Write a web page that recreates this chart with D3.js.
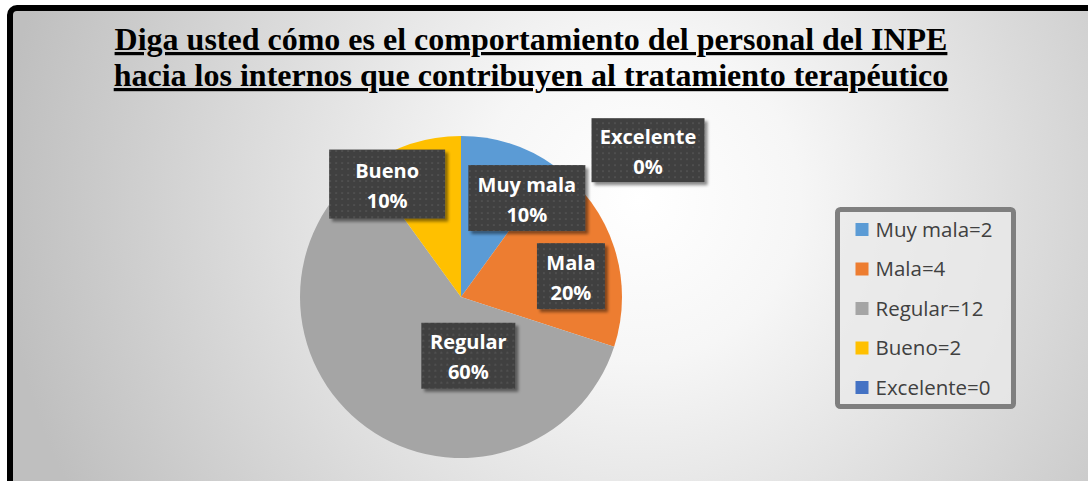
<!DOCTYPE html>
<html>
<head>
<meta charset="utf-8">
<script src="https://cdn.jsdelivr.net/npm/d3@7"></script>
<style>
  html, body { margin: 0; padding: 0; background: #ffffff; }
  svg { display: block; }
</style>
</head>
<body>
<div id="chart"></div>
<script>
"use strict";

// data
var categories = ["Muy mala", "Mala", "Regular", "Bueno", "Excelente"];
var counts = [2, 4, 12, 2, 0];
var legendLabels = ["Muy mala=2", "Mala=4", "Regular=12", "Bueno=2", "Excelente=0"];
var sliceColors = ["#5B9BD5", "#ED7D31", "#A5A5A5", "#FFC000", "#4472C4"];
var titleLines = [
	"Diga usted cómo es el comportamiento del personal del INPE",
	"hacia los internos que contribuyen al tratamiento terapéutico"
];

// label boxes: size and nudge from the arc centroid (Excel moved them around)
var labelLayout = {
	"Muy mala": { w: 117, h: 66, dx: 35, dy: -4 },
	"Mala": { w: 68, h: 66, dx: 15, dy: 10 },
	"Regular": { w: 94, h: 66, dx: 66, dy: -22 },
	"Bueno": { w: 116, h: 69, dx: -43, dy: -18 },
	"Excelente": { w: 113, h: 64, dx: 187, dy: -47 }
};

var iWidth = 1088, iHeight = 481;
var oCenter = { x: 461, y: 297 };
var iRadius = 161;

var oSvg = d3.select("#chart").append("svg")
	.attr("width", iWidth)
	.attr("height", iHeight);

var oDefs = oSvg.append("defs");

var oGrad = oDefs.append("radialGradient")
	.attr("id", "bg")
	.attr("gradientUnits", "userSpaceOnUse")
	.attr("cx", 640).attr("cy", 200).attr("r", 640);
oGrad.append("stop").attr("offset", "0").attr("stop-color", "#ffffff");
oGrad.append("stop").attr("offset", "0.25").attr("stop-color", "#f6f6f6");
oGrad.append("stop").attr("offset", "1").attr("stop-color", "#bfbfbf");

var oPat = oDefs.append("pattern")
	.attr("id", "dots")
	.attr("patternUnits", "userSpaceOnUse")
	.attr("width", 6).attr("height", 6);
oPat.append("rect").attr("width", 6).attr("height", 6).attr("fill", "#404040");
oPat.append("rect").attr("x", 2).attr("y", 2).attr("width", 2).attr("height", 2).attr("fill", "#4f4f4f");

var oShadow = oDefs.append("filter").attr("id", "shadow")
	.attr("x", "-20%").attr("y", "-20%").attr("width", "140%").attr("height", "140%");
oShadow.append("feDropShadow")
	.attr("dx", 3).attr("dy", 3).attr("stdDeviation", 1.8)
	.attr("flood-color", "#000").attr("flood-opacity", 0.45);

// background and frame
oSvg.append("rect")
	.attr("x", 10).attr("y", 8)
	.attr("width", 1100).attr("height", 500)
	.attr("rx", 7)
	.attr("fill", "url(#bg)")
	.attr("stroke", "#000")
	.attr("stroke-width", 6);

// title
var oTitle = oSvg.append("g")
	.attr("font-family", "'Liberation Serif', 'Times New Roman', serif")
	.attr("font-weight", "bold")
	.attr("font-size", 32)
	.attr("fill", "#000");
titleLines.forEach(function (sLine, i) {
	oTitle.append("text")
		.attr("x", 531)
		.attr("y", 50 + i * 36)
		.attr("text-anchor", "middle")
		.attr("text-decoration", "underline")
		.text(sLine);
});

// pie
var aData = categories.map(function (sName, i) {
	return { name: sName, value: counts[i], color: sliceColors[i] };
});
var total = d3.sum(counts);

var oPie = d3.pie()
	.value(function (d) { return d.value; })
	.sort(null);
var aArcs = oPie(aData);

var oArc = d3.arc().innerRadius(0).outerRadius(iRadius);
var oLabelArc = d3.arc().innerRadius(iRadius * 0.62).outerRadius(iRadius * 0.62);

var oPieG = oSvg.append("g")
	.attr("transform", "translate(" + oCenter.x + "," + oCenter.y + ")");

oPieG.selectAll("path")
	.data(aArcs)
	.enter().append("path")
	.attr("d", oArc)
	.attr("fill", function (d) { return d.data.color; });

// data labels
var oLabels = oPieG.selectAll("g.lbl")
	.data(aArcs)
	.enter().append("g")
	.attr("class", "lbl")
	.attr("transform", function (d) {
		var c = oLabelArc.centroid(d);
		var l = labelLayout[d.data.name];
		return "translate(" + (c[0] + l.dx) + "," + (c[1] + l.dy) + ")";
	});

oLabels.append("rect")
	.attr("x", function (d) { return -labelLayout[d.data.name].w / 2; })
	.attr("y", function (d) { return -labelLayout[d.data.name].h / 2; })
	.attr("width", function (d) { return labelLayout[d.data.name].w; })
	.attr("height", function (d) { return labelLayout[d.data.name].h; })
	.attr("fill", "url(#dots)")
	.attr("filter", "url(#shadow)");

var oLblText = oLabels.append("text")
	.attr("text-anchor", "middle")
	.attr("font-family", "'Open Sans', 'Noto Sans', sans-serif")
	.attr("font-weight", "bold")
	.attr("font-size", 20)
	.attr("fill", "#ffffff");
oLblText.append("tspan")
	.attr("x", 0).attr("y", -6.5)
	.text(function (d) { return d.data.name; });
oLblText.append("tspan")
	.attr("x", 0).attr("y", 23.5)
	.text(function (d) { return d3.format(".0%")(d.data.value / total); });

// legend
var oLegend = oSvg.append("g").attr("transform", "translate(837.5,209.5)");
oLegend.append("rect")
	.attr("width", 176).attr("height", 197)
	.attr("rx", 3)
	.attr("fill", "#e9e9e9")
	.attr("fill-opacity", 0.75)
	.attr("stroke", "#7f7f7f")
	.attr("stroke-width", 5);

var oLegendY = d3.scalePoint()
	.domain(categories)
	.range([20, 178]);

var oItems = oLegend.selectAll("g.item")
	.data(categories)
	.enter().append("g")
	.attr("class", "item")
	.attr("transform", function (d) { return "translate(18," + oLegendY(d) + ")"; });

oItems.append("rect")
	.attr("x", 0).attr("y", -6.5)
	.attr("width", 13).attr("height", 13)
	.attr("fill", function (d, i) { return sliceColors[i]; });

oItems.append("text")
	.attr("x", 20).attr("y", 7)
	.attr("font-family", "'Open Sans', 'Noto Sans', sans-serif")
	.attr("font-size", 20.5)
	.attr("fill", "#404040")
	.text(function (d, i) { return legendLabels[i]; });
</script>
</body>
</html>
